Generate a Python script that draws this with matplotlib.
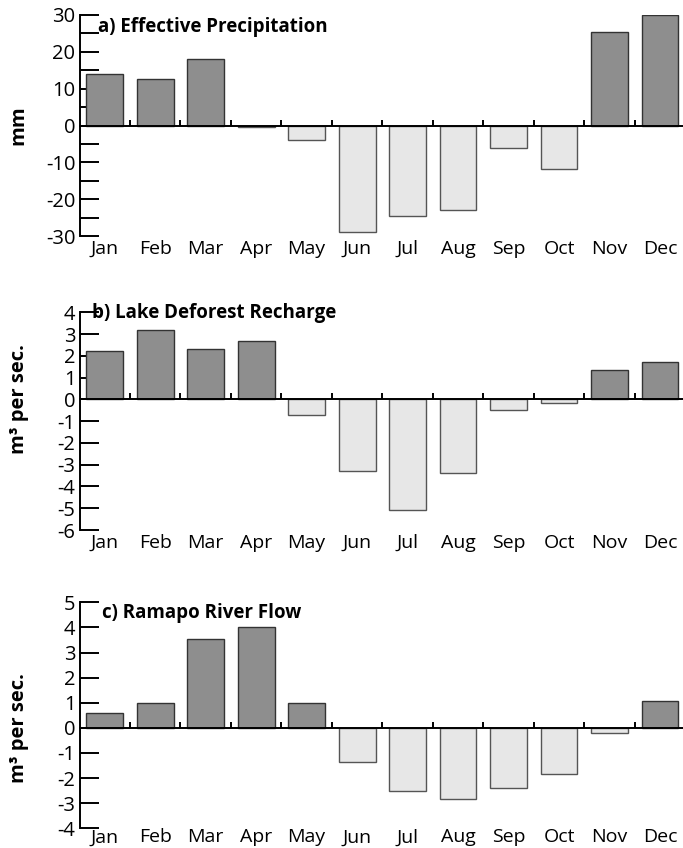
import numpy as np
import matplotlib.pyplot as plt
from matplotlib.transforms import blended_transform_factory
from matplotlib.ticker import MultipleLocator

plt.rcParams['font.family'] = ['Open Sans', 'DejaVu Sans']
plt.rcParams['axes.unicode_minus'] = False

months = ["Jan", "Feb", "Mar", "Apr", "May", "Jun",
          "Jul", "Aug", "Sep", "Oct", "Nov", "Dec"]

# monthly departures
eff_precip = [14, 12.5, 18, -0.3, -4, -29, -24.5, -23, -6, -11.8, 25.5, 30]
deforest_recharge = [2.2, 3.2, 2.3, 2.7, -0.7, -3.3, -5.1, -3.4, -0.5, -0.15, 1.35, 1.7]
ramapo_flow = [0.6, 1.0, 3.55, 4.0, 1.0, -1.35, -2.5, -2.85, -2.4, -1.85, -0.22, 1.05]

W, H = 683, 848
fig = plt.figure(figsize=(W / 100, H / 100), dpi=100)

POS_COLOR = "#8e8e8e"
NEG_COLOR = "#e7e7e7"


def panel(top, bottom, values, ylim, major, minor, title, title_xy, ylabel, month_pad):
    left, right = 79.5, 685.2
    ax = fig.add_axes([left / W, 1 - bottom / H, (right - left) / W, (bottom - top) / H])
    x = np.arange(len(values))
    vals = np.array(values)
    colors = [POS_COLOR if v >= 0 else NEG_COLOR for v in vals]
    edges = ["#333333" if v >= 0 else "#555555" for v in vals]
    ax.bar(x, vals, width=0.73, color=colors, edgecolor=edges, linewidth=1.0, zorder=2)

    ax.set_xlim(-0.5, len(values) - 0.5)
    ax.set_ylim(*ylim)
    for s in ["top", "right"]:
        ax.spines[s].set_visible(False)
    ax.spines["bottom"].set_position(("data", 0))
    ax.spines["bottom"].set_linewidth(1.4)
    ax.spines["bottom"].set_zorder(3)
    ax.spines["left"].set_linewidth(1.4)

    # small ticks on the zero line between months
    ax.set_xticks(np.arange(len(values)) + 0.5)
    ax.tick_params(axis="x", direction="in", length=4, width=1.4, labelbottom=False)
    ax.yaxis.set_major_locator(MultipleLocator(major))
    if minor:
        ax.yaxis.set_minor_locator(MultipleLocator(minor))
    ax.tick_params(axis="y", which="both", direction="in", length=14, width=1.4,
                   labelsize=14.5, pad=3)

    sec = ax.secondary_xaxis(0)
    sec.set_xticks(x, months)
    sec.spines["bottom"].set_visible(False)
    sec.tick_params(length=0, labelsize=14, pad=month_pad)

    ax.text(title_xy[0], title_xy[1], title, transform=ax.transAxes,
            fontsize=13.5, fontweight="bold", va="center", ha="left")
    ax.set_ylabel(ylabel, fontsize=14.5, fontweight="bold")
    ax.yaxis.set_label_coords(-0.084, 0, transform=blended_transform_factory(ax.transAxes, ax.transData))
    return ax


panel(15, 236, eff_precip, (-30, 30), 10, 5,
      "a) Effective Precipitation", (0.03, 0.946), "mm", 3)
panel(312.3, 530, deforest_recharge, (-6, 4), 1, None,
      "b) Lake Deforest Recharge", (0.021, 0.997), "m³ per sec.", 3)
panel(602.3, 828.3, ramapo_flow, (-4, 5), 1, None,
      "c) Ramapo River Flow", (0.037, 0.953), "m³ per sec.", 0)

fig.savefig("out.png", dpi=100)
